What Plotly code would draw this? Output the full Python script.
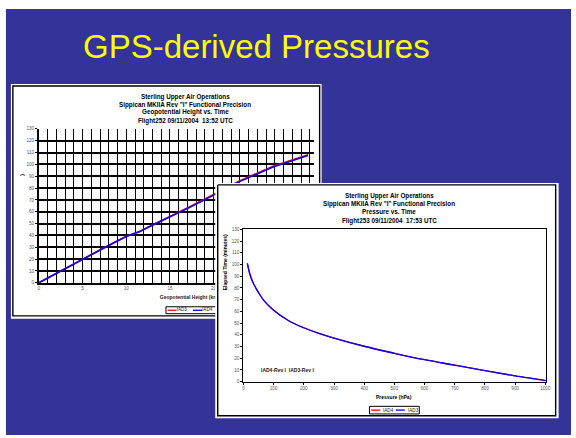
import plotly.graph_objects as go

W, H = 576, 438

# ---- Flight 252: elapsed time against geopotential height ----
height_km_iad3 = [0, 2.5, 5, 7.5, 10, 11.5, 13, 15, 17.5, 20, 22.9, 26.8, 30.8]
time_min_iad3 = [0, 10.1, 20.2, 29.8, 39.2, 43.3, 48.9, 56.0, 65.1, 74.6, 85.8, 98.4, 108.1]
height_km_iad4 = [0, 2.5, 5, 7.5, 10, 11.5, 13, 15, 17.5, 20, 22.9, 26.8, 30.8]
time_min_iad4 = [0, 10, 20, 29.5, 39, 43, 48.5, 55.5, 64.5, 74, 85.2, 97.8, 107.5]
height_ticks = list(range(0, 32))
height_labels = [str(v) if v % 5 == 0 else "" for v in height_ticks]

# ---- Flight 253: elapsed time against pressure ----
pressure_iad4 = [13, 20, 30, 50, 70, 100, 150, 200, 250, 300, 400, 500, 600, 700, 800, 900, 1000, 1012]
time_iad4 = [101, 93, 85.5, 76, 68.5, 61, 52, 46, 41.2, 37.2, 30.2, 24.2, 18.7, 14, 9.3, 4.9, 0.9, 0]
pressure_iad3 = [13, 20, 30, 50, 70, 100, 150, 200, 250, 300, 400, 500, 600, 700, 800, 900, 1000, 1012]
time_iad3 = [101, 93, 85.5, 76, 68.5, 61, 52, 46, 41.2, 37.2, 30.2, 24.2, 18.7, 14, 9.3, 4.9, 0.9, 0]

BLUE_BG = "#333399"
FONT = "Liberation Sans, Arial, sans-serif"


def fx(p):
    return p / W


def fy(p):
    return 1 - p / H


fig = go.Figure()

# subplot 1 (x/y): height chart
fig.add_trace(go.Scatter(x=height_km_iad3, y=time_min_iad3, mode="lines",
                         line=dict(color="#ff0000", width=1.6), xaxis="x", yaxis="y"))
fig.add_trace(go.Scatter(x=height_km_iad4, y=time_min_iad4, mode="lines",
                         line=dict(color="#0000ff", width=1.6), xaxis="x", yaxis="y"))

# subplot 2 (x2/y2): pixel-space layer for the first panel's captions (sits under the second panel)
fig.add_trace(go.Scatter(x=[166.7, 240, 240, 166.7, 166.7], y=[308.3, 308.3, 315.3, 315.3, 308.3],
                         mode="lines", line=dict(color="black", width=1), xaxis="x2", yaxis="y2"))
fig.add_trace(go.Scatter(x=[168.3, 177.3], y=[311.8, 311.8], mode="lines",
                         line=dict(color="#ff0000", width=1.3), xaxis="x2", yaxis="y2"))
fig.add_trace(go.Scatter(x=[194, 203.3], y=[311.8, 311.8], mode="lines",
                         line=dict(color="#0000ff", width=1.3), xaxis="x2", yaxis="y2"))
fig.add_trace(go.Scatter(x=[177.5, 203.2], y=[311.8, 311.8], mode="text", text=["IAD3", "IAD4"],
                         textposition="middle right",
                         textfont=dict(size=4.6, color="#222", family=FONT),
                         xaxis="x2", yaxis="y2"))
fig.add_trace(go.Scatter(x=[160.5], y=[299.3], mode="text",
                         text=["<b>Geopotential Height (km)</b>"], textposition="middle right",
                         textfont=dict(size=5, color="#222", family=FONT),
                         xaxis="x2", yaxis="y2"))

# subplot 3 (x3/y3): the second panel's card, drawn over the first chart
fig.add_trace(go.Scatter(x=[216.5, 563.5, 563.5, 216.5, 216.5], y=[183, 183, 421, 421, 183],
                         mode="lines", fill="toself", fillcolor="white",
                         line=dict(width=0, color="white"), xaxis="x3", yaxis="y3"))
fig.add_trace(go.Scatter(x=[219, 560.5, 560.5, 219, 219], y=[185, 185, 418.5, 418.5, 185],
                         mode="lines", line=dict(color="black", width=1.4),
                         xaxis="x3", yaxis="y3"))

# subplot 4 (x4/y4): pressure chart
fig.add_trace(go.Scatter(x=pressure_iad4, y=time_iad4, mode="lines",
                         line=dict(color="#ff0000", width=1.3, shape="spline", smoothing=1.0),
                         xaxis="x4", yaxis="y4"))
fig.add_trace(go.Scatter(x=pressure_iad3, y=time_iad3, mode="lines",
                         line=dict(color="#0000ff", width=1.3, shape="spline", smoothing=1.0),
                         xaxis="x4", yaxis="y4"))

tickfont = dict(size=4.6, color="#555", family=FONT)
hidden = dict(visible=False, showgrid=False, zeroline=False, fixedrange=True)

fig.update_layout(
    width=W, height=H,
    margin=dict(l=0, r=0, t=0, b=0),
    paper_bgcolor="white",
    plot_bgcolor="rgba(0,0,0,0)",
    showlegend=False,
    font=dict(family=FONT, color="black"),
    xaxis=dict(domain=[fx(38.3), fx(316.4)], range=[0, 31.5], anchor="y",
               tickmode="array", tickvals=height_ticks, ticktext=height_labels,
               showgrid=True, gridcolor="black", gridwidth=1.2,
               showline=True, linecolor="black", linewidth=1.6, zeroline=False,
               ticks="", tickfont=tickfont),
    yaxis=dict(domain=[fy(284), fy(128.3)], range=[0, 130], anchor="x",
               tick0=0, dtick=10, showgrid=True, gridcolor="black", gridwidth=1.8,
               showline=True, linecolor="black", linewidth=1.6, zeroline=False,
               ticks="outside", ticklen=2, tickcolor="black", tickfont=tickfont),
    xaxis2=dict(domain=[0, 1], range=[0, W], anchor="y2", **hidden),
    yaxis2=dict(domain=[0, 1], range=[H, 0], anchor="x2", **hidden),
    xaxis3=dict(domain=[0, 1], range=[0, W], anchor="y3", **hidden),
    yaxis3=dict(domain=[0, 1], range=[H, 0], anchor="x3", **hidden),
    xaxis4=dict(domain=[fx(245), fx(551)], range=[0, 1003], anchor="y4",
                tick0=0, dtick=100, showgrid=False, zeroline=False,
                showline=True, mirror=True, linecolor="black", linewidth=1.3,
                ticks="outside", ticklen=2, tickcolor="black", tickfont=tickfont),
    yaxis4=dict(domain=[fy(384), fy(230)], range=[0, 130], anchor="x4",
                tick0=0, dtick=10, showgrid=False, zeroline=False,
                showline=True, mirror=True, linecolor="black", linewidth=1.3,
                ticks="outside", ticklen=2, tickcolor="black", tickfont=tickfont),
)

# slide background and first panel card
shapes = [
    dict(type="rect", xref="paper", yref="paper", x0=fx(5), x1=1, y0=0, y1=fy(7),
         fillcolor=BLUE_BG, line=dict(width=0), layer="below"),
    dict(type="rect", xref="paper", yref="paper", x0=fx(10), x1=fx(324), y0=fy(320.5), y1=fy(83),
         fillcolor="white", line=dict(width=0), layer="below"),
    dict(type="rect", xref="paper", yref="paper", x0=fx(12), x1=fx(322), y0=fy(317.5), y1=fy(85),
         fillcolor="rgba(0,0,0,0)", line=dict(color="black", width=1.4), layer="below"),
    # legend of the pressure chart
    dict(type="rect", xref="paper", yref="paper", x0=fx(372.3), x1=fx(422.7), y0=fy(416.7), y1=fy(409),
         fillcolor="white", line=dict(color="black", width=1), layer="above"),
    dict(type="line", xref="paper", yref="paper", x0=fx(374), x1=fx(383.3), y0=fy(412.8), y1=fy(412.8),
         line=dict(color="#ff0000", width=1.3), layer="above"),
    dict(type="line", xref="paper", yref="paper", x0=fx(399), x1=fx(408), y0=fy(412.8), y1=fy(412.8),
         line=dict(color="#0000ff", width=1.3), layer="above"),
]
fig.update_layout(shapes=shapes)


def note(text, x, y, size, color="black", xanchor="center", angle=0, bold=True):
    return dict(text=f"<b>{text}</b>" if bold else text, xref="paper", yref="paper",
                x=fx(x), y=fy(y), xanchor=xanchor, yanchor="middle",
                showarrow=False, textangle=angle,
                font=dict(size=size, color=color, family=FONT))


annotations = [
    note("GPS-derived Pressures", 258, 45, 33, color="#ffff00", bold=False),
    # height chart headings
    note("Sterling Upper Air Operations", 186, 95.7, 6.3),
    note("Sippican MKIIA Rev \"I\" Functional Precision", 186, 103.7, 6.3),
    note("Geopotential Height vs. Time", 186, 111, 6.3),
    note("Flight252 09/11/2004  13:52 UTC", 186, 120.7, 6.3),
    note(")", 21, 175, 5, angle=-90),
    # pressure chart headings
    note("Sterling Upper Air Operations", 392.5, 196, 6.3),
    note("Sippican MKIIA Rev \"I\" Functional Precision", 392.5, 204.3, 6.3),
    note("Pressure vs. Time", 392.5, 212, 6.3),
    note("Flight253 09/11/2004  17:53 UTC", 393, 222, 6.3),
    note("Elapsed Time (minutes)", 226.7, 263, 5, angle=-90),
    note("Pressure (hPa)", 396.7, 400, 5),
    note("IAD4", 384.5, 412.8, 4.6, color="#222", xanchor="left", bold=False),
    note("IAD3", 409.5, 412.8, 4.6, color="#222", xanchor="left", bold=False),
    dict(text="<b>IAD4-Rev I  IAD3-Rev I</b>", xref="x4", yref="y4", x=52, y=10,
         xanchor="left", yanchor="middle", showarrow=False,
         font=dict(size=5, color="#222", family=FONT)),
]
fig.update_layout(annotations=annotations)

fig.write_html("out.html")
